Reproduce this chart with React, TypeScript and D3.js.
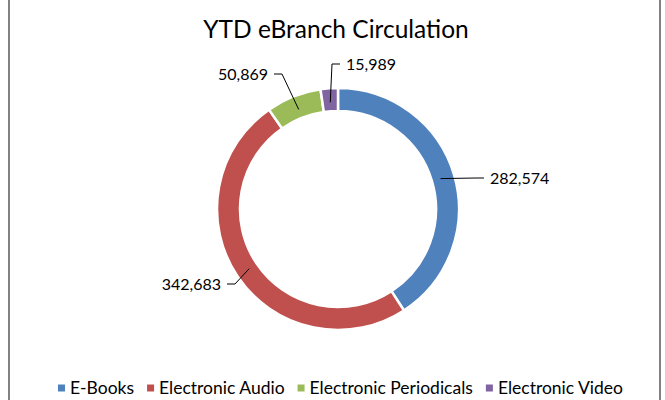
import { useEffect, useRef } from "react"
import * as d3 from "d3"

const categories = ["E-Books", "Electronic Audio", "Electronic Periodicals", "Electronic Video"]
const values = [282574, 342683, 50869, 15989]
const colors = ["#4F81BD", "#C0504D", "#9BBB59", "#8064A2"]

// label text anchor relative to donut centre, side: +1 text to the right of leader
const labelLayout: Record<string, { dx: number; dy: number; side: number }> = {
  "E-Books": { dx: 152, dy: -31, side: 1 },
  "Electronic Audio": { dx: -117, dy: 75, side: -1 },
  "Electronic Periodicals": { dx: -70, dy: -135, side: -1 },
  "Electronic Video": { dx: 8, dy: -145, side: 1 },
}

const FONT = "Lato, 'Open Sans', sans-serif"

export default function App() {
  const svgRef = useRef<SVGSVGElement | null>(null)

  useEffect(() => {
    if (!svgRef.current) return
    const width = 665
    const height = 400
    const cx = 338
    const cy = 209
    const outerR = 121
    const innerR = 98

    const svg = d3.select(svgRef.current).attr("width", width).attr("height", height)
    svg.selectAll("*").remove()

    svg.append("rect").attr("width", width).attr("height", height).attr("fill", "#fff")
    // chart border (top/bottom fall outside the crop)
    svg
      .append("rect")
      .attr("x", 9)
      .attr("y", -10)
      .attr("width", 651)
      .attr("height", height + 20)
      .attr("fill", "none")
      .attr("stroke", "#595959")
      .attr("stroke-width", 1.5)

    svg
      .append("text")
      .attr("x", 336)
      .attr("y", 38)
      .attr("text-anchor", "middle")
      .attr("font-family", FONT)
      .attr("font-size", 24.5)
      .attr("fill", "#000")
      .text("YTD eBranch Circulation")

    const pie = d3
      .pie<number>()
      .sort(null)
      .value(d => d)
    const arcs = pie(values)
    const arc = d3.arc<d3.PieArcDatum<number>>().innerRadius(innerR).outerRadius(outerR)

    const g = svg.append("g").attr("transform", `translate(${cx},${cy})`)
    g.selectAll("path.slice")
      .data(arcs)
      .join("path")
      .attr("class", "slice")
      .attr("d", arc)
      .attr("fill", (_, i) => colors[i])
      .attr("stroke", "#fff")
      .attr("stroke-width", 2.5)

    const fmt = d3.format(",")
    const midR = 107
    arcs.forEach((a, i) => {
      const lay = labelLayout[categories[i]]
      const ang = (a.startAngle + a.endAngle) / 2
      const sx = midR * Math.sin(ang)
      const sy = -midR * Math.cos(ang)
      const ex = lay.dx - lay.side * 14
      const tx = lay.dx - lay.side * 6
      g.append("path")
        .attr("d", d3.line()([[sx, sy], [ex, lay.dy], [tx, lay.dy]]))
        .attr("fill", "none")
        .attr("stroke", "#000")
        .attr("stroke-width", 1)
      g.append("text")
        .attr("x", lay.dx)
        .attr("y", lay.dy)
        .attr("dy", "0.35em")
        .attr("text-anchor", lay.side > 0 ? "start" : "end")
        .attr("font-family", FONT)
        .attr("font-size", 16)
        .attr("fill", "#000")
        .text(fmt(values[i]))
    })

    // legend
    const legendY = 388
    const legend = svg.append("g")
    let x = 0
    categories.forEach((c, i) => {
      const item = legend.append("g").attr("transform", `translate(${x},0)`)
      item
        .append("rect")
        .attr("x", 0)
        .attr("y", legendY - 3.5)
        .attr("width", 7)
        .attr("height", 7)
        .attr("fill", colors[i])
      const t = item
        .append("text")
        .attr("x", 12)
        .attr("y", legendY)
        .attr("dy", "0.35em")
        .attr("font-family", FONT)
        .attr("font-size", 17.5)
        .attr("fill", "#000")
        .text(c)
      const w = 12 + (t.node() as SVGTextElement).getComputedTextLength()
      x += w + 13
    })
    const total = x - 13
    legend.attr("transform", `translate(${(width - total) / 2 + 8},0)`)
  }, [])

  return (
    <div style={{ position: "absolute", left: 0, top: 0 }}>
      <svg ref={svgRef} style={{ display: "block" }} />
    </div>
  )
}
